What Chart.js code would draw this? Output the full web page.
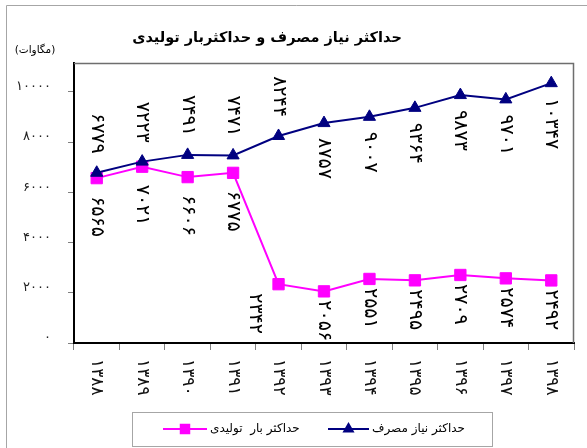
<!DOCTYPE html>
<html>
<head>
<meta charset="utf-8">
<script src="https://cdn.jsdelivr.net/npm/chart.js@4/dist/chart.umd.min.js"></script>
<style>
    html, body { margin: 0; padding: 0; background: #fff; }
</style>
</head>
<body>
<canvas id="peakLoadChart" width="587" height="448"></canvas>
<script>
// chart data
const years = ['۱۳۸۸', '۱۳۸۹', '۱۳۹۰', '۱۳۹۱', '۱۳۹۲', '۱۳۹۳', '۱۳۹۴', '۱۳۹۵', '۱۳۹۶', '۱۳۹۷', '۱۳۹۸'];
const demandPeak = [6779, 7223, 7491, 7471, 8244, 8757, 9007, 9364, 9873, 9701, 10347];
const supplyPeak = [6565, 7021, 6606, 6775, 2342, 2056, 2551, 2495, 2709, 2574, 2492];
const yTicks = [0, 2000, 4000, 6000, 8000, 10000];

const chartTitle = 'حداکثر نیاز مصرف و حداکثربار تولیدی';
const unitText = '(مگاوات)';
const demandName = 'حداکثر نیاز مصرف';
const supplyName = 'حداکثر بار  تولیدی';

const FONT = "'DejaVu Sans', sans-serif";

// western digits -> persian digits
function toFa(n) {
    return String(n).replace(/\d/g, d => '۰۱۲۳۴۵۶۷۸۹'[d]);
}

// where each value label sits relative to its point
function labelSpot(dsIndex, i) {
    if (dsIndex === 0) {
        return i < 5 ? { dx: 0, dy: -19, align: 'right' } : { dx: 0, dy: 15, align: 'left' };
    }
    if (i < 4) return { dx: 0, dy: 18, align: 'left' };
    return { dx: i === 4 ? -24 : 0, dy: 9, align: 'left' };
}

// draws title, unit, frames, rotated labels and the legend box
const decorPlugin = {
    id: 'decor',
    afterDraw(chart) {
        const ctx = chart.ctx;
        const area = chart.chartArea;
        const xScale = chart.scales.x;
        const yScale = chart.scales.y;
        ctx.save();

        // outer frame
        ctx.strokeStyle = '#a6a6a6';
        ctx.lineWidth = 1;
        ctx.beginPath();
        ctx.moveTo(6.5, 448);
        ctx.lineTo(6.5, 5.5);
        ctx.lineTo(587, 5.5);
        ctx.stroke();

        // plot frame (top and right)
        ctx.strokeStyle = '#6e6e6e';
        ctx.lineWidth = 1.5;
        ctx.beginPath();
        ctx.moveTo(area.left, area.top + 0.5);
        ctx.lineTo(area.right - 0.5, area.top + 0.5);
        ctx.lineTo(area.right - 0.5, area.bottom);
        ctx.stroke();

        // title + unit
        ctx.fillStyle = '#000';
        ctx.textBaseline = 'middle';
        ctx.textAlign = 'center';
        ctx.font = 'bold 14.5px ' + FONT;
        ctx.fillText(chartTitle, 267, 38);
        ctx.font = '10.5px ' + FONT;
        ctx.fillText(unitText, 35, 50);

        // y tick labels (sit a little above their tick)
        ctx.font = '13px ' + FONT;
        ctx.fillStyle = '#222';
        ctx.textAlign = 'right';
        yTicks.forEach(v => {
            ctx.fillText(toFa(v), 51, yScale.getPixelForValue(v) - 5);
        });

        // category labels, rotated clockwise
        ctx.font = '17px ' + FONT;
        ctx.fillStyle = '#111';
        years.forEach((yr, i) => {
            const x = xScale.getPixelForTick(i);
            ctx.save();
            ctx.translate(x, area.bottom + 16);
            ctx.rotate(Math.PI / 2);
            ctx.textAlign = 'left';
            ctx.fillText(yr, 0, 0);
            ctx.restore();
        });

        // value labels next to each point
        ctx.font = '19px ' + FONT;
        ctx.fillStyle = '#000';
        chart.data.datasets.forEach((ds, d) => {
            const meta = chart.getDatasetMeta(d);
            meta.data.forEach((pt, i) => {
                const spot = labelSpot(d, i);
                ctx.save();
                ctx.translate(pt.x + spot.dx, pt.y + spot.dy);
                ctx.rotate(Math.PI / 2);
                ctx.textAlign = spot.align;
                ctx.fillText(toFa(ds.data[i]), 0, 0);
                ctx.restore();
            });
        });

        // legend box
        ctx.strokeStyle = '#a6a6a6';
        ctx.lineWidth = 1;
        ctx.strokeRect(132.5, 412.5, 360, 34);
        const legendItems = [
            { ds: chart.data.datasets[1], x0: 163, x1: 207, tx: 210 },
            { ds: chart.data.datasets[0], x0: 328, x1: 369, tx: 372 }
        ];
        const ly = 429;
        legendItems.forEach(item => {
            ctx.strokeStyle = item.ds.borderColor;
            ctx.lineWidth = 2;
            ctx.beginPath();
            ctx.moveTo(item.x0, ly);
            ctx.lineTo(item.x1, ly);
            ctx.stroke();
            Chart.helpers.drawPoint(ctx, {
                pointStyle: item.ds.pointStyle,
                radius: item.ds.pointStyle === 'rect' ? 6 : 5,
                rotation: 0,
                borderWidth: 1
            }, (item.x0 + item.x1) / 2, ly);
            ctx.fillStyle = item.ds.borderColor;
            ctx.fill();
            ctx.fillStyle = '#000';
            ctx.font = '12px ' + FONT;
            ctx.textAlign = 'left';
            ctx.fillText(item.ds.label, item.tx, ly);
        });

        ctx.restore();
    }
};

const ctx = document.getElementById('peakLoadChart').getContext('2d');
const peakChart = new Chart(ctx, {
    type: 'line',
    data: {
        labels: years,
        datasets: [
            {
                label: demandName,
                data: demandPeak,
                borderColor: '#000080',
                backgroundColor: '#000080',
                borderWidth: 2,
                pointStyle: 'triangle',
                pointRadius: 7,
                pointBorderWidth: 1,
                tension: 0
            },
            {
                label: supplyName,
                data: supplyPeak,
                borderColor: '#ff00ff',
                backgroundColor: '#ff00ff',
                borderWidth: 2,
                pointStyle: 'rect',
                pointRadius: 8,
                pointBorderWidth: 1,
                tension: 0
            }
        ]
    },
    options: {
        responsive: false,
        animation: false,
        devicePixelRatio: 1,
        layout: {
            padding: { left: 24, top: 63, right: 13, bottom: 98 }
        },
        plugins: {
            legend: { display: false },
            title: { display: false },
            tooltip: { enabled: false }
        },
        scales: {
            x: {
                type: 'category',
                offset: true,
                grid: {
                    offset: true,
                    drawOnChartArea: false,
                    tickLength: 7,
                    color: '#808080'
                },
                border: { color: '#000', width: 2 },
                ticks: { display: false },
                afterFit: function(scale) { scale.height = 7; }
            },
            y: {
                min: 0,
                max: 11150,
                grid: {
                    drawOnChartArea: false,
                    tickLength: 6,
                    color: '#808080'
                },
                border: { color: '#000', width: 2 },
                ticks: { display: false },
                afterBuildTicks: function(scale) {
                    scale.ticks = yTicks.map(v => ({ value: v }));
                },
                afterFit: function(scale) { scale.width = 50; }
            }
        }
    },
    plugins: [decorPlugin]
});
</script>
</body>
</html>
